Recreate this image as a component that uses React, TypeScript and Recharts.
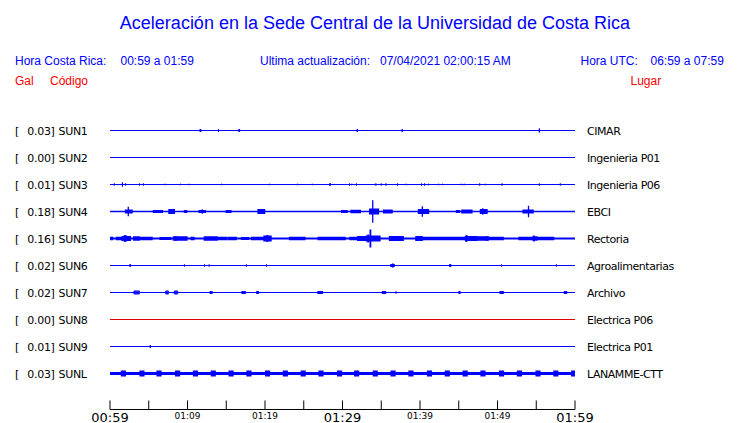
import React from 'react';
import { LineChart, Line, XAxis, YAxis } from 'recharts';

// ---- Data ----
const stationCodes = ['SUN1', 'SUN2', 'SUN3', 'SUN4', 'SUN5', 'SUN6', 'SUN7', 'SUN8', 'SUN9', 'SUNL'];
const stationPlaces = ['CIMAR', 'Ingenieria P01', 'Ingenieria P06', 'EBCI', 'Rectoria', 'Agroalimentarias', 'Archivo', 'Electrica P06', 'Electrica P01', 'LANAMME-CTT'];
const peakGal = [0.03, 0.0, 0.01, 0.18, 0.16, 0.02, 0.02, 0.0, 0.01, 0.03];
const traceColors = ['#0000ff', '#0000ff', '#0000ff', '#0000ff', '#0000ff', '#0000ff', '#0000ff', '#e00000', '#0000ff', '#0000ff'];
const traceWidths = [1, 1, 1, 1.3, 1.8, 1, 1, 1, 1, 3.2];

// minutes after 00:59
const timeTicks = [0, 5, 10, 15, 20, 25, 30, 35, 40, 45, 50, 55, 60];
const timeTickLabels = ['00:59', '', '01:09', '', '01:19', '', '01:29', '', '01:39', '', '01:49', '', '01:59'];
const largeTimeLabels = ['00:59', '01:29', '01:59'];

// events: [minute, visible half-amplitude, duration(min)]
type Ev = [number, number, number?];
const sun1Events: Ev[] = [[11.6, 1.5, 0.15], [14.0, 2], [16.6, 1.5, 0.15], [31.9, 2], [37.7, 2], [55.4, 2.5]];
const sun2Events: Ev[] = [];
const sun3Events: Ev[] = [
  [0.55, 1.5], [1.6, 2.5], [2.0, 1.5], [3.8, 1.5], [4.3, 1.5], [7.1, 1.2], [9.1, 1.2], [10.2, 1.2], [14.4, 1.2],
  [20.6, 1.2], [24.2, 1.2], [26.1, 1.2], [28.4, 2], [30.9, 1.5], [31.2, 1.2], [31.8, 1.5], [34.3, 1.5], [35.0, 1.5],
  [35.6, 1.5], [37.1, 1.5], [38.2, 1.2], [40.2, 1.5], [40.6, 1.5], [41.1, 1.2], [42.4, 1.2], [42.9, 1.2], [45.3, 1.2],
  [45.7, 1.2], [47.7, 1.5], [48.4, 1.2], [50.6, 1.5], [55.4, 1.5], [58.1, 1.5],
];
const sun4Events: Ev[] = [
  [1.6, 1], [2.0, 2, 0.85], [2.36, 5.5], [3.8, 1.5], [4.3, 1], [4.9, 1], [5.6, 1.5, 1.16], [7.6, 2.5, 0.7],
  [9.6, 1.5, 0.3], [10.3, 1.5], [11.5, 1.5, 0.8], [11.9, 3], [13.0, 1.5], [13.5, 1.2], [14.0, 1.2], [14.3, 1.2],
  [15.0, 1.5, 0.6], [18.2, 1], [18.8, 1.5], [19.1, 2.5, 0.85], [21.8, 1], [22.6, 1.2], [23.3, 1.2], [23.9, 1.2],
  [24.3, 1.2], [24.7, 1.2], [28.6, 1.5], [29.5, 1.5], [29.9, 1.5, 0.7], [31.1, 1.8, 1.2], [33.5, 3, 1.15],
  [33.9, 12], [35.3, 2, 1.1], [37.1, 1], [38.6, 1], [39.2, 1], [39.8, 2.5, 1.3], [40.3, 6], [42.5, 1],
  [44.7, 1.5, 0.4], [45.4, 2, 1.3], [47.0, 1], [47.8, 2.5, 0.85], [48.1, 4], [52.6, 1], [53.3, 2, 1.3],
  [54.0, 6.5], [55.8, 1], [57.2, 1], [59.1, 1.5], [59.6, 1.5],
];
const sun5Events: Ev[] = [
  [0.0, 1.8, 0.3], [0.86, 1.8, 0.65], [1.6, 2.5, 1.0], [1.9, 4.5], [2.1, 4], [3.1, 2.2, 0.65], [3.5, 3],
  [4.0, 1.8, 1.4], [6.5, 1.4, 1.3], [8.2, 2.2, 1.7], [8.5, 3.5], [8.8, 3], [10.5, 1.8, 0.3], [12.2, 2.2, 1.6],
  [12.2, 2.5], [13.8, 1.8, 1.2], [15.3, 1.8, 0.95], [17.0, 1.4, 0.85], [18.3, 1.8, 1.5], [19.9, 3, 0.85],
  [20.3, 4.5], [21.9, 1.3], [22.8, 1.3], [23.2, 1.8, 1.9], [26.9, 1.8, 3.4], [31.0, 1.8, 1.1], [32.0, 2.5, 1.0],
  [32.6, 3.5], [33.1, 3, 1.7], [33.3, 5], [33.6, 10], [36.1, 2.5, 1.7], [39.5, 2.5, 0.75], [39.8, 3],
  [40.2, 1.8, 1.1], [41.5, 1.8, 4.3], [45.9, 2.5, 1.4], [46.0, 4.5], [46.9, 3.5], [47.3, 2.2, 1.5], [48.6, 3.5],
  [48.8, 1.8, 1.9], [51.4, 1.3], [52.0, 1.3], [52.8, 1.8, 1.85], [54.6, 2.2, 0.45], [54.7, 4], [55.1, 1.8, 2.1],
  [58.5, 1.8], [59.3, 1.8], [59.8, 1.8],
];
const sun6Events: Ev[] = [
  [2.6, 2], [9.6, 1.5], [12.2, 1.5], [12.8, 1.5], [16.0, 1], [17.6, 1.5], [20.2, 1.5], [22.9, 1],
  [36.2, 1.5, 0.5], [36.5, 2.5], [41.8, 1], [43.8, 1.5, 0.2], [47.7, 1], [50.5, 1.5], [57.6, 1.5],
];
const sun7Events: Ev[] = [
  [1.6, 1], [1.85, 1], [2.1, 1], [3.1, 2, 0.7], [7.2, 2, 0.35], [8.3, 2, 0.45], [8.9, 1], [12.9, 1.5, 0.3],
  [14.2, 1], [17.0, 1.5, 0.5], [18.9, 1.5, 0.3], [26.2, 1], [26.8, 1.5, 0.65], [32.0, 1], [32.3, 1],
  [35.1, 1.5, 0.5], [36.9, 1.5], [41.5, 1], [45.0, 1.5, 0.2], [46.7, 1], [50.3, 1.5, 0.5], [57.6, 1],
  [58.6, 1.5, 0.35], [59.8, 1],
];
const sun8Events: Ev[] = [];
const sun9Events: Ev[] = [[5.2, 2], [35.4, 1], [36.6, 1], [37.3, 1], [42.4, 1], [46.0, 1]];
const sunLEvents: Ev[] = [
  [1.6, 3, 0.25], [4.0, 3, 0.25], [6.2, 3, 0.25], [8.6, 3, 0.25], [10.9, 3, 0.25], [11.8, 2.5],
  [13.2, 3, 0.25], [14.1, 2.5], [15.3, 2.5], [15.5, 3, 0.25], [17.8, 3, 0.25], [20.2, 3, 0.25],
  [22.5, 3, 0.25], [23.4, 2.5], [24.8, 3, 0.25], [27.1, 3, 0.25], [27.3, 2.5], [29.5, 3, 0.25],
  [31.7, 3, 0.25], [34.1, 3, 0.25], [36.4, 3, 0.25], [38.7, 3, 0.25], [41.1, 3, 0.25],
  [43.4, 3, 0.25], [45.7, 3, 0.25], [48.0, 3, 0.25], [50.4, 3, 0.25], [52.7, 3, 0.25],
  [55.1, 3, 0.25], [57.4, 3, 0.25], [59.7, 3, 0.25],
];
const stationEvents = [sun1Events, sun2Events, sun3Events, sun4Events, sun5Events, sun6Events, sun7Events, sun8Events, sun9Events, sunLEvents];

// ---- Layout constants ----
const ROW_STEP = 27;
const W = 740;
const H = 423;
const FONT_HEAD = '"Liberation Sans", Arial, sans-serif';
const FONT_LBL = '"DejaVu Sans", sans-serif';

// visible amplitude includes the stroke; path amplitude removes half of it
function buildTrace(events: Ev[], row: number, sw: number) {
  const b = row * ROW_STEP;
  const pts: { t: number; y: number }[] = [{ t: 0, y: b }];
  const sorted = [...events].sort((p, q) => p[0] - q[0]);
  for (const ev of sorted) {
    const t = ev[0];
    const a = Math.max(ev[1] - sw / 2, 0.4);
    const w = ev[2] || 0;
    if (w <= 0) {
      pts.push({ t, y: b }, { t, y: b - a }, { t, y: b + a }, { t, y: b });
    } else {
      const e = t + w;
      pts.push(
        { t, y: b }, { t, y: b - a }, { t: e, y: b - a }, { t: e, y: b - a / 2 }, { t, y: b - a / 2 },
        { t, y: b + a / 2 }, { t: e, y: b + a / 2 }, { t: e, y: b + a }, { t, y: b + a }, { t, y: b }, { t: e, y: b },
      );
    }
  }
  pts.push({ t: 60, y: b });
  return pts;
}

const traces = stationEvents.map((ev, i) => buildTrace(ev, i, traceWidths[i]));
const rowTicks = stationCodes.map((_, i) => i * ROW_STEP);

const LeftTick = (props: any) => {
  const { y, payload } = props;
  const i = Math.round(payload.value / ROW_STEP);
  const st = { fontFamily: FONT_LBL, fontSize: 11, fill: '#000', letterSpacing: -0.3 } as any;
  return (
    <g>
      <text x={15} y={y + 4} style={st}>[</text>
      <text x={27.3} y={y + 4} style={st}>{peakGal[i].toFixed(2)}]</text>
      <text x={58.5} y={y + 4} style={st}>{stationCodes[i]}</text>
    </g>
  );
};

const RightTick = (props: any) => {
  const { y, payload } = props;
  const i = Math.round(payload.value / ROW_STEP);
  return (
    <text x={587} y={y + 4} style={{ fontFamily: FONT_LBL, fontSize: 11, fill: '#000', letterSpacing: -0.45 } as any}>
      {stationPlaces[i]}
    </text>
  );
};

const TimeTick = (props: any) => {
  const { x, y, index } = props;
  const label = timeTickLabels[index] ?? '';
  const big = largeTimeLabels.includes(label);
  return (
    <g>
      <line x1={x} x2={x} y1={y} y2={y - 9} stroke="#000" strokeWidth={1} />
      {label ? (
        <text
          x={x}
          y={big ? y + 12 : y + 9}
          textAnchor="middle"
          style={{ fontFamily: FONT_LBL, fontSize: big ? 13 : 9, fill: '#000' } as any}
        >
          {label}
        </text>
      ) : null}
    </g>
  );
};

export default function App() {
  return (
    <div style={{ position: 'absolute', left: 0, top: 0, width: W, height: H, background: '#fff' }}>
      <svg width={W} height={H} style={{ position: 'absolute', left: 0, top: 0, pointerEvents: 'none' }}>
        <text x={375} y={28.5} textAnchor="middle" style={{ fontFamily: FONT_HEAD, fontSize: 18, fill: '#0000ff' }}>
          Aceleración en la Sede Central de la Universidad de Costa Rica
        </text>
        <g style={{ fontFamily: FONT_HEAD, fontSize: 12, fill: '#0000ff' } as any}>
          <text x={15} y={65}>Hora Costa Rica:</text>
          <text x={120.5} y={65}>00:59 a 01:59</text>
          <text x={260} y={65}>Ultima actualización:</text>
          <text x={380} y={65}>07/04/2021 02:00:15 AM</text>
          <text x={580.5} y={65}>Hora UTC:</text>
          <text x={650.5} y={65}>06:59 a 07:59</text>
        </g>
        <g style={{ fontFamily: FONT_HEAD, fontSize: 12, fill: '#ff0000' } as any}>
          <text x={15} y={85}>Gal</text>
          <text x={50} y={85}>Código</text>
          <text x={630.5} y={85}>Lugar</text>
        </g>
      </svg>
      <div style={{ position: 'absolute', left: 0, top: 0 }}>
        <LineChart width={W} height={H} margin={{ top: 117, right: 0, bottom: 0, left: 0 }}>
          <XAxis
            dataKey="t"
            type="number"
            domain={[0, 60]}
            ticks={timeTicks}
            interval={0}
            height={13.5}
            tickSize={0}
            tickMargin={0}
            tickLine={false}
            axisLine={{ stroke: '#000', strokeWidth: 1 }}
            tick={<TimeTick />}
            allowDataOverflow
          />
          <YAxis
            yAxisId="left"
            orientation="left"
            type="number"
            width={110}
            reversed
            domain={[-13.5, 279]}
            ticks={rowTicks}
            interval={0}
            axisLine={false}
            tickLine={false}
            tick={<LeftTick />}
            allowDataOverflow
          />
          <YAxis
            yAxisId="right"
            orientation="right"
            type="number"
            width={165}
            reversed
            domain={[-13.5, 279]}
            ticks={rowTicks}
            interval={0}
            axisLine={false}
            tickLine={false}
            tick={<RightTick />}
            allowDataOverflow
          />
          {traces.map((tr, i) => (
            <Line
              key={stationCodes[i]}
              yAxisId="left"
              data={tr}
              dataKey="y"
              type="linear"
              stroke={traceColors[i]}
              strokeWidth={traceWidths[i]}
              dot={false}
              activeDot={false}
              isAnimationActive={false}
            />
          ))}
        </LineChart>
      </div>
    </div>
  );
}
